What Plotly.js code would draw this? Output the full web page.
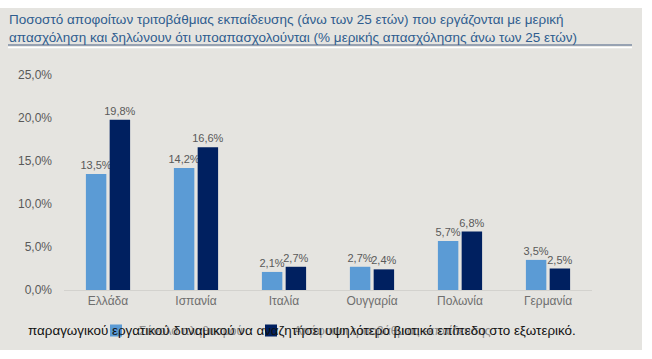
<!DOCTYPE html>
<html><head><meta charset="utf-8">
<script src="https://cdn.plot.ly/plotly-3.0.1.min.js"></script>
<style>html,body{margin:0;padding:0;background:#fff;}#chart{position:absolute;left:0;top:8px;width:642px;height:342px;}</style>
</head><body><div id="chart"></div>
<script>
const categories = ['Ελλάδα','Ισπανία','Ιταλία','Ουγγαρία','Πολωνία','Γερμανία'];
const seriesA = [13.5, 14.2, 2.1, 2.7, 5.7, 3.5];
const seriesB = [19.8, 16.6, 2.7, 2.4, 6.8, 2.5];
const seriesNames = ['Σύνολο πληθυσμού', 'Απόφοιτοι τριτοβάθμιας εκπαίδευσης'];
const yTicks = [0, 5, 10, 15, 20, 25];
const yTickLabels = ['0,0%', '5,0%', '10,0%', '15,0%', '20,0%', '25,0%'];
const titleText = 'Ποσοστό αποφοίτων τριτοβάθμιας εκπαίδευσης (άνω των 25 ετών) που εργάζονται με μερική<br>απασχόληση και δηλώνουν ότι υποαπασχολούνται (% μερικής απασχόλησης άνω των 25 ετών)';
const overlayText = 'παραγωγικού εργατικού δυναμικού να αναζητήσει υψηλότερο βιοτικό επίπεδο στο εξωτερικό.';

const font = 'Liberation Sans, Arial, sans-serif';
const textGray = '#595959';
const bg = '#e5e4e0';
const W = 528, H = 215, L = 64, T = 67;
const px = x => (x - L) / W;
const py = y => (T + H - y) / H;

const traces = [
  {type:'bar', name:seriesNames[0], x:categories, y:seriesA, marker:{color:'#5b9bd5'},
   texttemplate:'%{y:.1f}%', textposition:'outside', cliponaxis:false, constraintext:'none',
   textfont:{family:font, size:11, color:textGray}, hoverinfo:'none'},
  {type:'bar', name:seriesNames[1], x:categories, y:seriesB, marker:{color:'#002060'},
   texttemplate:'%{y:.1f}%', textposition:'outside', cliponaxis:false, constraintext:'none',
   textfont:{family:font, size:11, color:textGray}, hoverinfo:'none'}
];

const layout = {
  width:642, height:342,
  paper_bgcolor:bg, plot_bgcolor:bg,
  separators:',.',
  margin:{l:L, r:50, t:T, b:60, autoexpand:false},
  barmode:'group', bargap:0.46, bargroupgap:0.14,
  font:{family:font, color:textGray},
  xaxis:{tickfont:{family:font, size:12, color:'#6f6f6f'}, showline:true, linecolor:'#d3d2ce', linewidth:1,
         ticks:'', showgrid:false, fixedrange:true, automargin:false},
  yaxis:{range:[0,25], tickmode:'array', tickvals:yTicks, ticktext:yTickLabels, showgrid:false, zeroline:false,
         tickfont:{family:font, size:12, color:textGray}, ticks:'', ticklabelstandoff:11, fixedrange:true, automargin:false},
  showlegend:true,
  legend:{orientation:'h', x:px(93), xanchor:'left', y:py(308), yanchor:'top', itemwidth:36,
          font:{family:font, size:12, color:'#8a8a8a'}, bgcolor:'rgba(0,0,0,0)'},
  shapes:[
    {type:'line', xref:'paper', yref:'paper', x0:px(8), x1:px(632), y0:py(37), y1:py(37),
     line:{color:'#7d8ca3', width:1.5}},
    {type:'line', xref:'paper', yref:'paper', x0:px(8), x1:px(632), y0:py(39.5), y1:py(39.5),
     line:{color:'#ffffff', width:1.5}}
  ],
  annotations:[
    {text:titleText, xref:'paper', yref:'paper', x:px(7), y:py(2), xanchor:'left', yanchor:'top', align:'left',
     showarrow:false, font:{family:font, size:13.5, color:'#2f5d8f'}},
    {text:overlayText, xref:'paper', yref:'paper', x:px(302), y:py(322), xanchor:'center', yanchor:'middle',
     showarrow:false, font:{family:font, size:13.4, color:'#111111'}}
  ]
};
Plotly.newPlot('chart', traces, layout, {displayModeBar:false, staticPlot:true});
</script></body></html>
